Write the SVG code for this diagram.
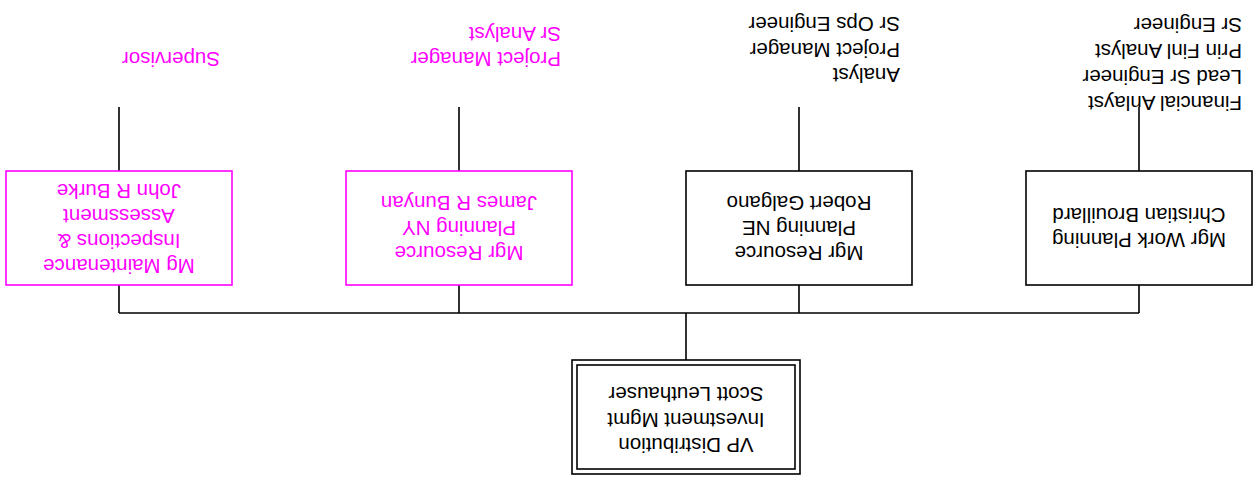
<svg xmlns="http://www.w3.org/2000/svg" width="1257" height="483" viewBox="0 0 1257 483">
<style>
.box{fill:#fff;stroke:#000;stroke-width:1.6}
.mbox{fill:#fff;stroke:#ff00ff;stroke-width:1.6}
.ln{stroke:#000;stroke-width:1.6;fill:none}
text{font-family:"Liberation Sans",Arial,sans-serif;font-size:20.5px;fill:#000}
.m{fill:#ff00ff}
.c{text-anchor:middle}
</style>
<rect width="1257" height="483" fill="#fff"/>
<g transform="rotate(180 628.5 241.5)">
<g id="connectors">
<path class="ln" d="M571 123V170M118 170H1138M118 170V198M458 170V198M798 170V198M1138 170V198M118 312V376M458 312V376M798 312V376M1138 312V376"/>
</g>
<g id="vp">
<rect class="box" x="457" y="9" width="228" height="114"/>
<rect class="box" x="462" y="14" width="218" height="104"/>
<text class="c" x="571" y="45">VP Distribution</text>
<text class="c" x="571" y="70.5">Investment Mgmt</text>
<text class="c" x="571" y="96">Scott Leuthauser</text>
</g>
<g id="work-planning">
<rect class="box" x="5" y="198" width="226" height="114"/>
<text class="c" x="118" y="250">Mgr Work Planning</text>
<text class="c" x="118" y="275">Christian Brouillard</text>
<text x="15" y="387">Financial Anlayst</text>
<text x="15" y="413">Lead Sr Engineer</text>
<text x="15" y="439">Prin Finl Analyst</text>
<text x="15" y="465">Sr Engineer</text>
</g>
<g id="resource-ne">
<rect class="box" x="345" y="198" width="226" height="114"/>
<text class="c" x="458" y="237">Mgr Resource</text>
<text class="c" x="458" y="262">Planning NE</text>
<text class="c" x="458" y="287">Robert Galgano</text>
<text x="357" y="415">Analyst</text>
<text x="357" y="440.5">Project Manager</text>
<text x="357" y="466">Sr Ops Engineer</text>
</g>
<g id="resource-ny">
<rect class="mbox" x="685" y="198" width="226" height="114"/>
<text class="c m" x="798" y="237">Mgr Resource</text>
<text class="c m" x="798" y="262">Planning NY</text>
<text class="c m" x="798" y="287">James R Bunyan</text>
<text class="m" x="696" y="431">Project Manager</text>
<text class="m" x="696" y="456">Sr Analyst</text>
</g>
<g id="maintenance">
<rect class="mbox" x="1025" y="198" width="226" height="114"/>
<text class="c m" x="1138" y="224">Mg Maintenance</text>
<text class="c m" x="1138" y="249">Inspections &amp;</text>
<text class="c m" x="1138" y="274">Assessment</text>
<text class="c m" x="1138" y="299">John R Burke</text>
<text class="m" x="1037" y="431">Supervisor</text>
</g>
</g>
</svg>
